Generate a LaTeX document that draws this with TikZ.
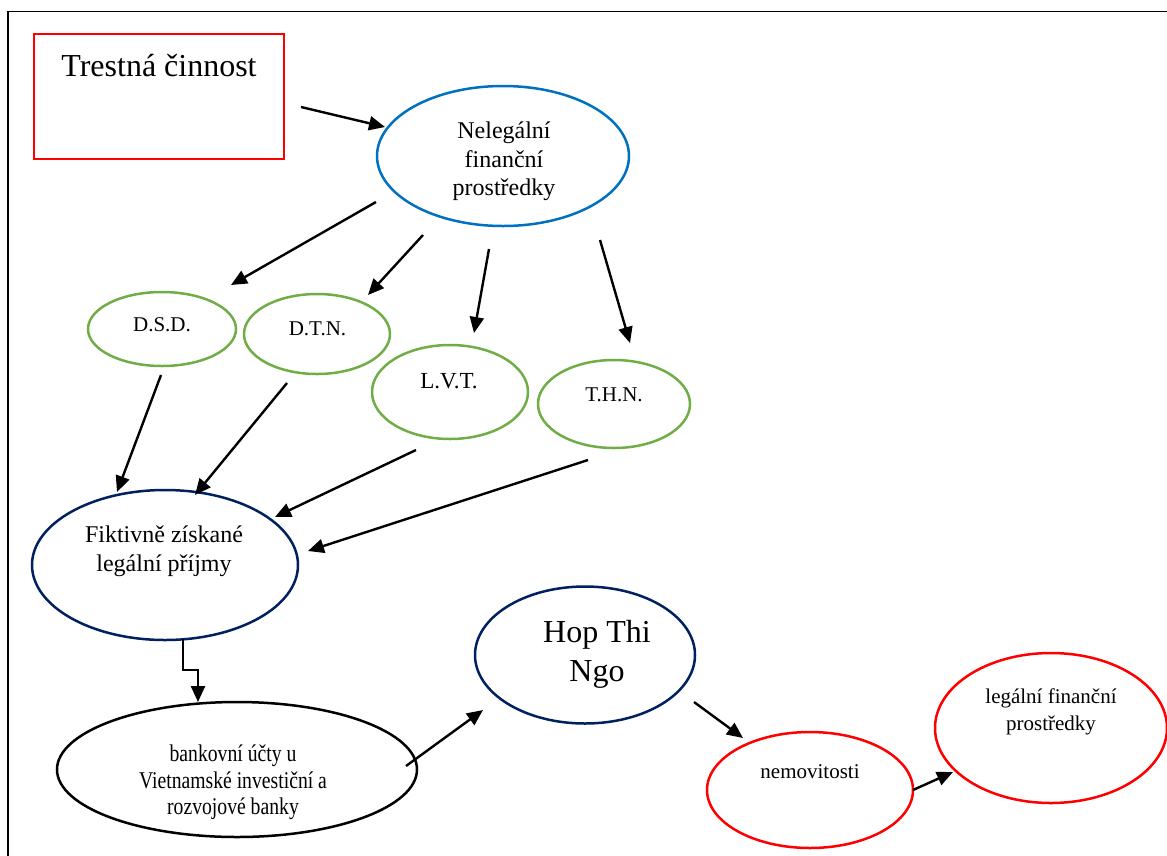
\documentclass[tikz,border=0pt]{standalone}
\usepackage{fontspec}
\setmainfont{Liberation Serif}
\usetikzlibrary{arrows.meta,calc,shapes.geometric}
\definecolor{myred}{RGB}{255,0,0}
\definecolor{myblue}{RGB}{0,112,192}
\definecolor{mygreen}{RGB}{112,173,71}
\definecolor{mynavy}{RGB}{0,32,96}
\tikzset{
  ell/.style={ellipse,draw,line width=2.5pt,inner sep=0pt,outer sep=0pt},
  greenell/.style={ell,draw=mygreen},
  arr/.style={draw=black,line width=2.4pt,-{Triangle[length=16pt,width=14pt]}},
  txt/.style={inner sep=0pt,outer sep=0pt,align=center,text=black},
}
\newcommand{\fsz}[2]{\fontsize{#1}{#2}\selectfont}
\begin{document}
\begin{tikzpicture}[x=1pt,y=-1pt]
\useasboundingbox (0,0) rectangle (1167,855);
% frame
\draw[line width=1.8pt] (8.3,860) -- (8.3,11.5) -- (1170,11.5);
% shapes
\node[draw=myred,line width=2.2pt,rectangle,minimum width=250pt,minimum height=125pt,inner sep=0pt,outer sep=0pt] (trest) at (159,96.5) {};
\node[ell,draw=myblue,minimum width=252pt,minimum height=140pt] (nel) at (503,156) {};
\node[greenell,minimum width=148pt,minimum height=74pt] (dsd) at (162,329) {};
\node[greenell,minimum width=146pt,minimum height=80pt] (dtn) at (317,334) {};
\node[greenell,minimum width=156pt,minimum height=94pt] (lvt) at (450,392) {};
\node[greenell,minimum width=152pt,minimum height=88pt] (thn) at (614,404) {};
\node[ell,draw=mynavy,minimum width=266pt,minimum height=150pt] (fik) at (165,565) {};
\node[ell,draw=black,minimum width=360pt,minimum height=135pt] (bank) at (237,769.5) {};
\node[ell,draw=mynavy,minimum width=220pt,minimum height=137pt] (hop) at (585,655) {};
\node[ell,draw=myred,minimum width=206pt,minimum height=116pt] (nem) at (810,790) {};
\node[ell,draw=myred,minimum width=232pt,minimum height=150pt] (leg) at (1051,728) {};
% texts
\node[txt,anchor=base,font=\fsz{32}{38}] (trestT) at (159,76) {Trestná činnost};
\node[txt,font=\fsz{24}{28.5}] (nelT) at (504,161.5) {Nelegální\\finanční\\prostředky};
\node[txt,anchor=base,font=\fsz{21}{25}] (dsdT) at (162,331) {D.S.D.};
\node[txt,anchor=base,font=\fsz{21}{25}] (dtnT) at (317.5,335) {D.T.N.};
\node[txt,anchor=base,font=\fsz{23}{27}] (lvtT) at (449,388) {L.V.T.};
\node[txt,anchor=base,font=\fsz{21}{25}] (thnT) at (614,401) {T.H.N.};
\node[txt,font=\fsz{24}{29}] (fikT) at (164,551.5) {Fiktivně získané\\legální příjmy};
\node[txt,font=\fsz{24}{26.5}] (bankT) at (233,782.5) {\scalebox{0.82}[1]{bankovní účty u}\\\scalebox{0.82}[1]{Vietnamské investiční a}\\\scalebox{0.82}[1]{rozvojové banky}};
\node[txt,font=\fsz{32}{39}] (hopT) at (597,654.5) {Hop Thi\\Ngo};
\node[txt,anchor=base,font=\fsz{21}{25}] (nemT) at (810,778) {nemovitosti};
\node[txt,font=\fsz{21}{27}] (legT) at (1051,711.5) {legální finanční\\prostředky};
% connectors
\draw[arr] ($(trest)+(142,10.5)$) -- ($(nel)+(-118,-29)$);
\draw[arr] ($(nel)+(-127,46)$) -- ($(dsd)+(69,-44)$);
\draw[arr] ($(nel)+(-80,79)$) -- ($(dtn)+(51,-39)$);
\draw[arr] ($(nel)+(-14,93)$) -- ($(lvt)+(24,-59)$);
\draw[arr] ($(nel)+(97,84)$) -- ($(thn)+(16,-61)$);
\draw[arr] ($(dsd)+(-1,46)$) -- ($(fik)+(-48,-73)$);
\draw[arr] ($(dtn)+(-30,49)$) -- ($(fik)+(30,-70)$);
\draw[arr] ($(lvt)+(-34,58)$) -- ($(fik)+(110,-48)$);
\draw[arr] ($(thn)+(-26,56)$) -- ($(fik)+(143,-14)$);
\draw[arr] ($(fik.south)+(18,-1)$) -- ++(0,31) -- ++(15,0) -- ($(bank)+(-39,-67.5)$);
\draw[arr] ($(bank)+(169,-3.5)$) -- ($(hop)+(-102,55)$);
\draw[arr] ($(hop)+(109,47)$) -- ($(nem)+(-67,-52)$);
\draw[arr] ($(nem)+(103,0)$) -- ($(leg)+(-98,44)$);
\end{tikzpicture}
\end{document}
